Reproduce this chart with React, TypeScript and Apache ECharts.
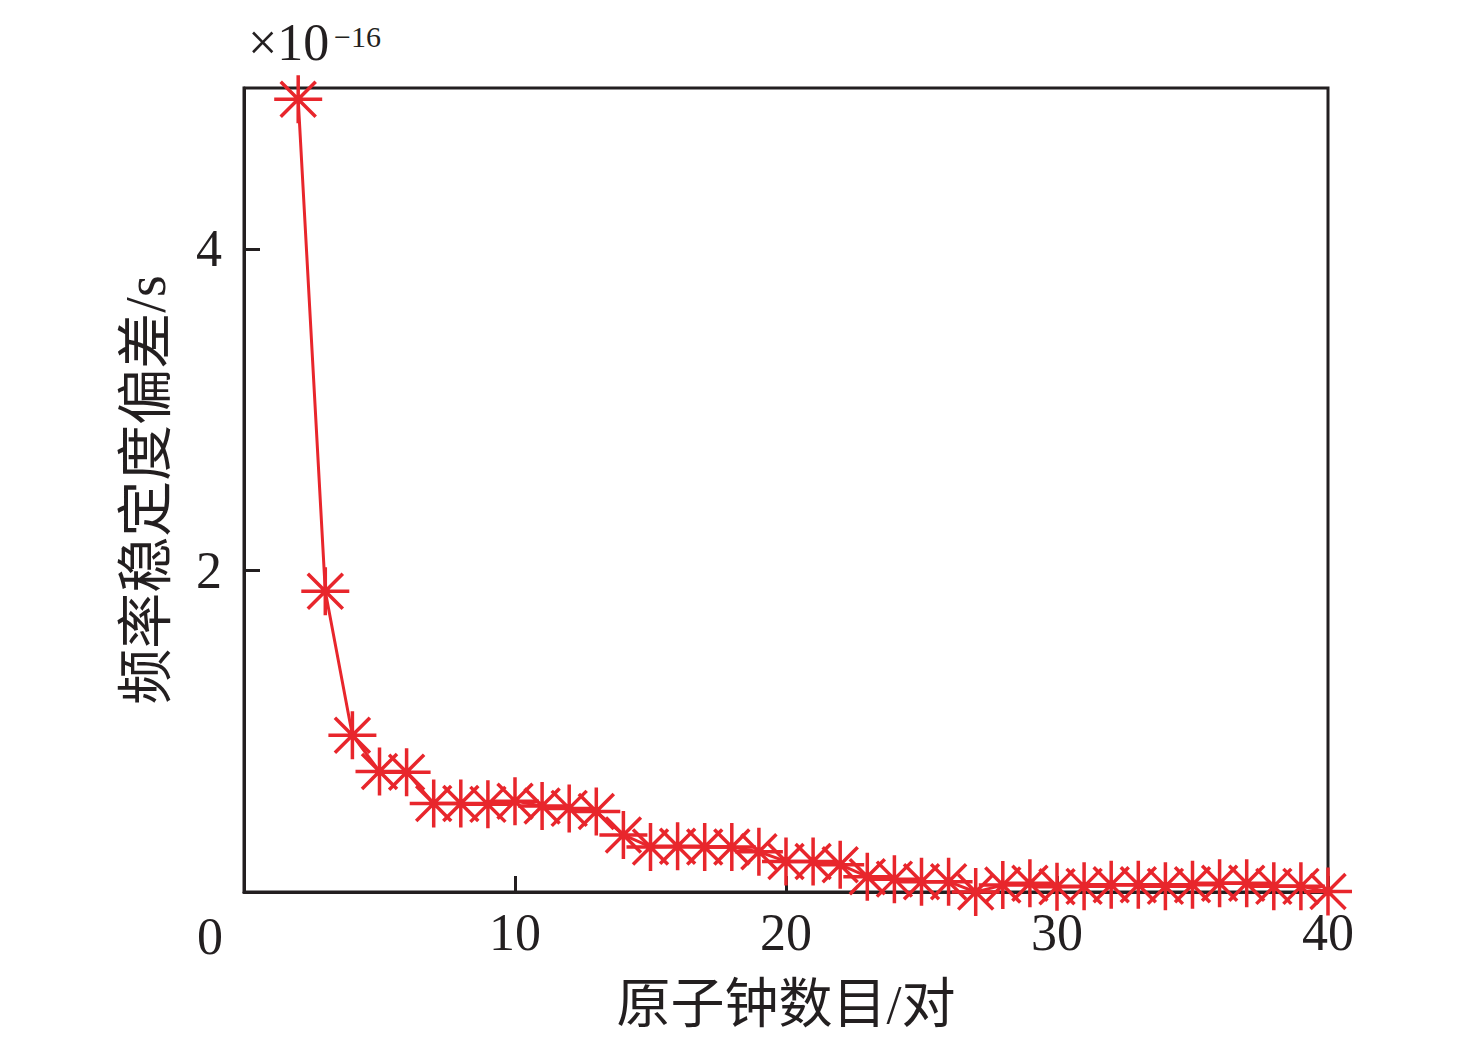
import React, { useEffect, useRef } from "react";
import * as echarts from "echarts";

const clockPairs: number[] = [
  2, 3, 4, 5, 6, 7, 8, 9, 10, 11, 12, 13, 14, 15, 16, 17, 18, 19, 20, 21,
  22, 23, 24, 25, 26, 27, 28, 29, 30, 31, 32, 33, 34, 35, 36, 37, 38, 39, 40,
];
const deviation: number[] = [
  4.93, 1.87, 0.975, 0.75, 0.745, 0.55, 0.55, 0.545, 0.565, 0.535, 0.52, 0.5,
  0.355, 0.28, 0.285, 0.28, 0.28, 0.25, 0.19, 0.19, 0.17, 0.095, 0.08, 0.064,
  0.064, 0.0, 0.043, 0.054, 0.033, 0.035, 0.045, 0.045, 0.035, 0.045, 0.055,
  0.055, 0.035, 0.035, 0.003,
];
const xTicks: number[] = [0, 10, 20, 30, 40];
const yTicks: number[] = [0, 2, 4];
const xTitle = "原子钟数目/对";
const yTitle = "频率稳定度偏差/s";
const scaleBase = "×10";
const scaleExp = "−16";

const RED = "#e8262c";
const INK = "#231f20";
const FONT = '"Liberation Serif", "Times New Roman", "Noto Sans CJK SC", serif';

const asterisk =
  "path://M0,24L48,24M24,0L24,48M6.5,6.5L41.5,41.5M41.5,6.5L6.5,41.5";

export default function App() {
  const ref = useRef<HTMLDivElement>(null);
  useEffect(() => {
    if (!ref.current) return;
    const chart = echarts.init(ref.current, null, { renderer: "svg" });
    const data = clockPairs.map((x, i) => [x, deviation[i]]);
    chart.setOption({
      animation: false,
      backgroundColor: "#ffffff",
      grid: {
        left: 244,
        right: 148,
        top: 88,
        bottom: 152,
        show: true,
        borderColor: INK,
        borderWidth: 3,
        backgroundColor: "transparent",
      },
      xAxis: {
        type: "value",
        min: xTicks[0],
        max: xTicks[xTicks.length - 1],
        interval: xTicks[1] - xTicks[0],
        name: xTitle,
        nameLocation: "middle",
        nameGap: 86,
        nameTextStyle: { fontFamily: FONT, fontSize: 54, color: INK },
        axisLine: { show: true, lineStyle: { color: INK, width: 3 } },
        axisTick: { show: true, inside: true, length: 16, lineStyle: { color: INK, width: 3 } },
        axisLabel: {
          fontFamily: FONT,
          fontSize: 52,
          color: INK,
          margin: 14,
          formatter: (v: number) => (v === 0 ? "" : String(v)),
        },
        splitLine: { show: false },
      },
      yAxis: {
        type: "value",
        min: 0,
        max: 5,
        interval: yTicks[1] - yTicks[0],
        name: yTitle,
        nameLocation: "middle",
        nameRotate: 90,
        nameGap: 70,
        nameTextStyle: { fontFamily: FONT, fontSize: 56, color: INK },
        axisLine: { show: true, lineStyle: { color: INK, width: 3 } },
        axisTick: { show: true, inside: true, length: 16, lineStyle: { color: INK, width: 3 } },
        axisLabel: {
          fontFamily: FONT,
          fontSize: 52,
          color: INK,
          margin: 22,
          showMaxLabel: false,
          formatter: (v: number) => (yTicks.includes(v) && v !== 0 ? String(v) : ""),
        },
        splitLine: { show: false },
      },
      graphic: [
        {
          type: "text",
          left: 197,
          top: 910,
          style: { text: "0", font: `52px ${FONT}`, fill: INK },
        },
        {
          type: "text",
          left: 248,
          top: 16,
          style: { text: scaleBase, font: `52px ${FONT}`, fill: INK },
        },
        {
          type: "text",
          left: 334,
          top: 21,
          style: { text: scaleExp, font: `30px ${FONT}`, fill: INK },
        },
      ],
      series: [
        {
          type: "line",
          data,
          clip: false,
          symbol: asterisk,
          symbolSize: 48,
          showAllSymbol: true,
          lineStyle: { color: RED, width: 3 },
          itemStyle: { color: RED, borderColor: RED, borderWidth: 3.5 },
        },
      ],
    });
    return () => chart.dispose();
  }, []);
  return (
    <div
      ref={ref}
      style={{ position: "fixed", left: 0, top: 0, width: 1476, height: 1044, background: "#fff" }}
    />
  );
}
